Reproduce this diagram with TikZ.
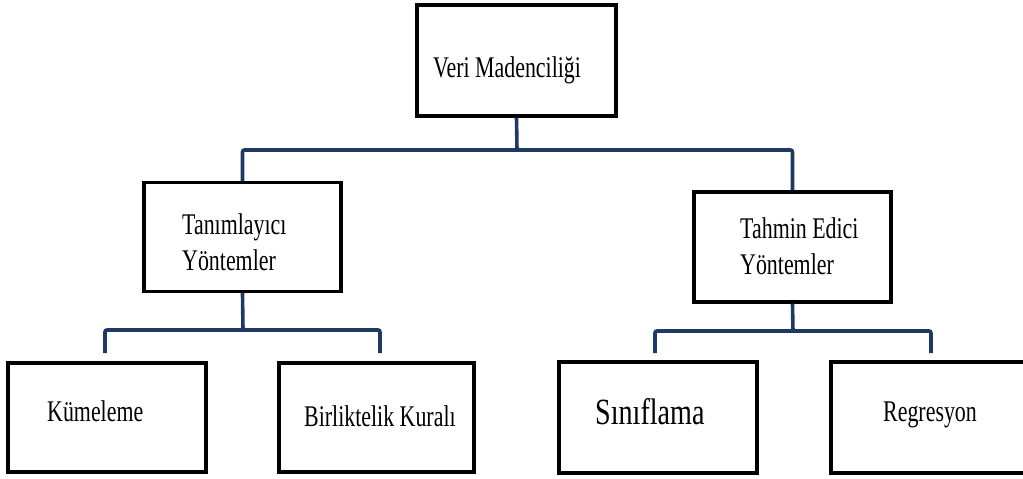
\documentclass[tikz,border=0pt]{standalone}
\usepackage{fontspec}
\newfontfamily\tf{Liberation Serif}[FakeStretch=0.73]
\newfontfamily\tfb{Liberation Serif}[FakeStretch=0.76]
\definecolor{navy}{RGB}{31,56,100}
\begin{document}
\begin{tikzpicture}[x=1pt,y=-1pt,
  box/.style={draw=black,line width=3.4pt,fill=white,inner sep=0pt},
  txt/.style={inner sep=0pt,anchor=base west,align=left,font=\tf\fontsize{30}{36}\selectfont},
  bigtxt/.style={inner sep=0pt,anchor=base west,font=\tfb\fontsize{37}{40}\selectfont},
  conn/.style={draw=navy,line width=3.6pt,rounded corners=2pt}]
\clip (0,0) rectangle (1023,479);
\fill[white] (0,0) rectangle (1023,479);
% boxes
\node[box,minimum width=199pt,minimum height=111pt] (root) at (516.5,60.5) {};
\node[box,minimum width=197pt,minimum height=109pt] (tan) at (242.5,237) {};
\node[box,minimum width=197pt,minimum height=110pt] (tah) at (792.5,247) {};
\node[box,minimum width=198pt,minimum height=109pt] (km) at (107,417.5) {};
\node[box,minimum width=195pt,minimum height=109pt] (bk) at (376.5,417.5) {};
\node[box,minimum width=198pt,minimum height=111pt] (sf) at (658,417.5) {};
\node[box,minimum width=198pt,minimum height=111pt] (rg) at (930,417.5) {};
% texts
\node[txt] (rootT) at (433,77) {Veri Madenciliği};
\node[txt] (tanT) at (182,270) {Tanımlayıcı\\Yöntemler};
\node[txt] (tahT) at (740,274) {Tahmin Edici\\Yöntemler};
\node[txt] (kmT) at (47,421) {Kümeleme};
\node[txt] (bkT) at (304,426) {Birliktelik Kuralı};
\node[bigtxt] (sfT) at (595,424) {Sınıflama};
\node[txt] (rgT) at (883,421) {Regresyon};
% bus coordinates
\coordinate (bus1) at (517,150);
\coordinate (bus2) at (243,330);
\coordinate (bus3) at (793,331);
\coordinate (kmTop) at (105,353);
\coordinate (bkTop) at (380,353);
\coordinate (sfTop) at (655,353);
\coordinate (rgTop) at (931,353);
% connectors
\draw[conn] (root.south) -- (bus1);
\draw[conn] (tan.north) |- (bus1) -| (tah.north);
\draw[conn] (tan.south) -- (bus2);
\draw[conn] (kmTop) |- (bus2) -| (bkTop);
\draw[conn] (tah.south) -- (bus3);
\draw[conn] (sfTop) |- (bus3) -| (rgTop);
\end{tikzpicture}
\end{document}
